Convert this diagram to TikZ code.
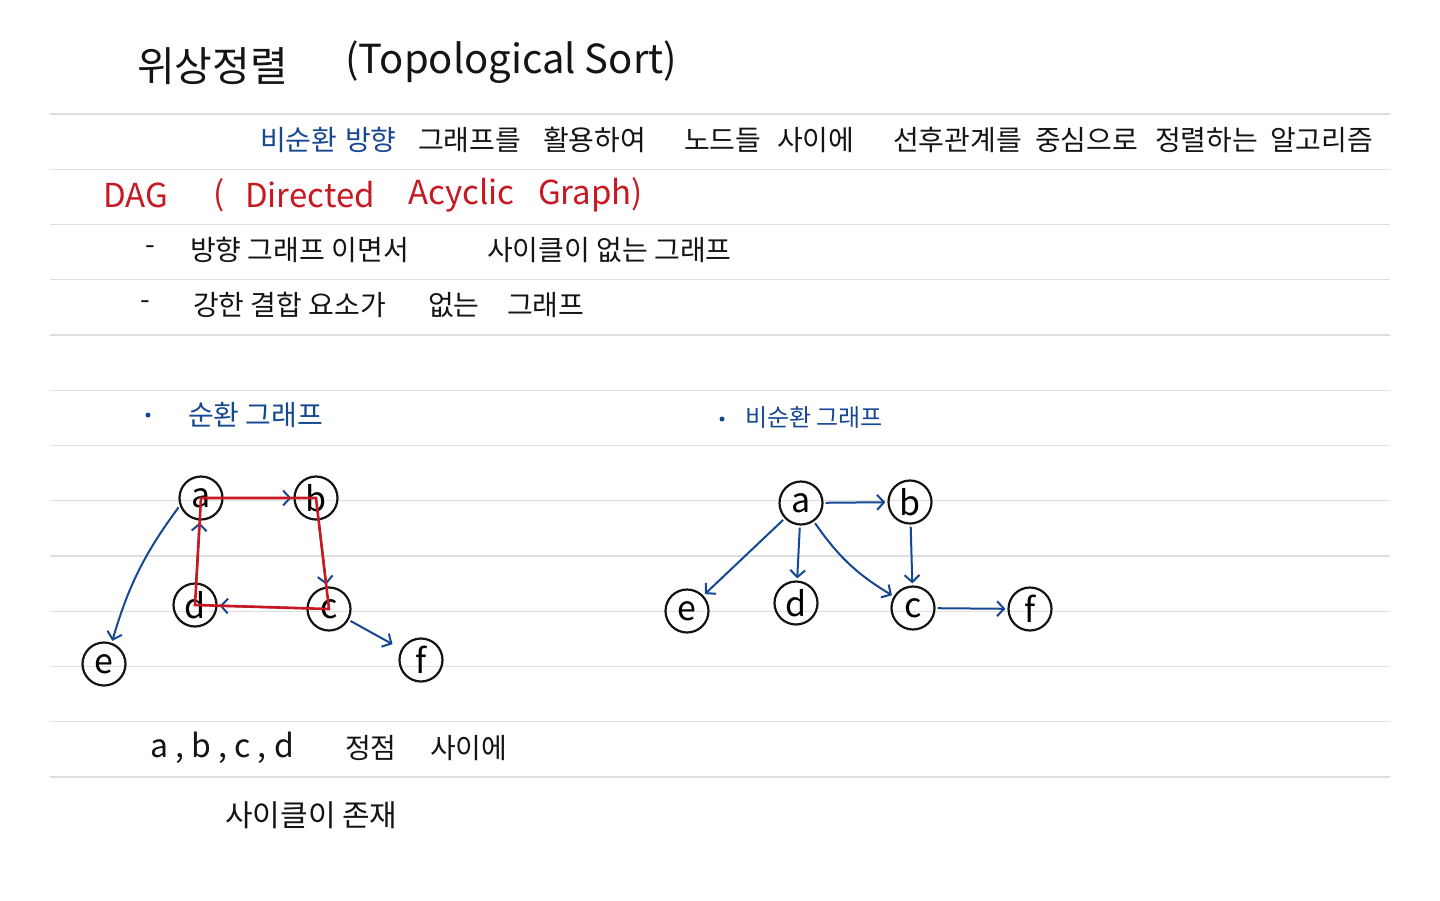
\documentclass[tikz,border=0pt]{standalone}
\usepackage{fontspec}
\setmainfont{Noto Sans CJK KR}
\usetikzlibrary{arrows.meta, positioning}
\definecolor{myblue}{RGB}{22,72,145}
\definecolor{myred}{RGB}{200,25,35}
\definecolor{mydark}{RGB}{20,20,20}
\definecolor{rulegray}{RGB}{222,222,222}
\tikzset{
  vertex/.style={circle, draw=mydark, line width=2.2pt, minimum size=43pt,
    inner sep=0pt, font=\fontsize{34}{34}\selectfont},
  arrow/.style={-{Straight Barb[length=7pt,width=15pt]}, line width=2pt,
    color=myblue, shorten >=2pt, shorten <=2pt},
  cycleline/.style={line width=2.6pt, color=myred},
  ruleline/.style={line width=1.4pt, color=rulegray},
  txt/.style={anchor=west, inner sep=0pt, text=mydark,
    font=\fontsize{28}{30}\selectfont},
  bluetxt/.style={txt, text=myblue},
  redtxt/.style={txt, text=myred, font=\fontsize{33}{35}\selectfont}
}

\begin{document}
\begin{tikzpicture}[x=1pt, y=-1pt]
  \useasboundingbox[fill=white] (0,0) rectangle (1440,900);

  % Ruled lines
  \foreach \k in {0,...,12}
    \draw[ruleline] (50,{114+55.25*\k}) -- (1390,{114+55.25*\k});

  % Title
  \node[txt, font=\fontsize{41}{43}\selectfont] (title) at (137,66) {위상정렬};
  \node[txt, font=\fontsize{40}{42}\selectfont] (titleen) at (345,62) {(Topological Sort)};

  % Definition
  \node[bluetxt] (w1) at (260,140) {비순환};
  \node[bluetxt] (w2) at (345,140) {방향};
  \foreach \x/\w in {418/그래프를, 543/활용하여, 684/노드들, 777/사이에,
                     893/선후관계를, 1035/중심으로, 1155/정렬하는, 1270/알고리즘}
    \node[txt] (w\x) at (\x,140) {\w};

  % DAG
  \node[redtxt] (dag) at (103,195) {DAG};
  \node[redtxt] (dagopen) at (213,195) {(};
  \node[redtxt] (dagd) at (245,195) {Directed};
  \node[redtxt] (daga) at (408,195) {Acyclic};
  \node[redtxt] (dagg) at (538,195) {Graph)};

  \node[txt] (dash1) at (145,250) {-};
  \node[txt] (item1a) at (190,250) {방향 그래프 이면서};
  \node[txt] (item1b) at (487,250) {사이클이 없는 그래프};
  \node[txt] (dash2) at (140,305) {-};
  \node[txt] (item2a) at (193,305) {강한 결합 요소가};
  \node[txt] (item2b) at (428,305) {없는};
  \node[txt] (item2c) at (507,305) {그래프};

  % Section heads
  \fill[myblue] (148,415) circle (2.5);
  \node[bluetxt] (cyc) at (188,415) {순환 그래프};
  \fill[myblue] (722,419) circle (2.5);
  \node[bluetxt, font=\fontsize{24}{26}\selectfont] (acyc) at (745,417) {비순환 그래프};

  % Cyclic graph
  \node[vertex] (la) at (201,498) {a};
  \node[vertex] (lb) at (316,498) {b};
  \node[vertex] (ld) at (195,605) {d};
  \node[vertex] (lc) at (329,609) {c};
  \node[vertex] (le) at (104,664) {e};
  \node[vertex] (lf) at (421,660) {f};
  \draw[arrow] (la) -- (lb);
  \draw[arrow] (lb) -- (lc);
  \draw[arrow] (lc) -- (ld);
  \draw[arrow] (ld) -- (la);
  \draw[arrow] (la.200) to[bend right=10] (le.70);
  \draw[arrow, shorten >=10pt] (lc) -- (lf);
  \draw[cycleline] (la.center) -- (lb.center) -- (lc.center) -- (ld.center) -- cycle;

  % Acyclic graph
  \node[vertex] (ra) at (801,503) {a};
  \node[vertex] (rb) at (910,502) {b};
  \node[vertex] (re) at (687,611) {e};
  \node[vertex] (rd) at (796,603) {d};
  \node[vertex] (rc) at (913,608) {c};
  \node[vertex] (rf) at (1030,609) {f};
  \draw[arrow] (ra) -- (rb);
  \draw[arrow] (ra) -- (re);
  \draw[arrow] (ra) -- (rd);
  \draw[arrow] (ra) to[bend right=12] (rc);
  \draw[arrow] (rb) -- (rc);
  \draw[arrow] (rc) -- (rf);

  % Note
  \node[txt, font=\fontsize{32}{34}\selectfont] (note1) at (150,748) {a , b , c , d};
  \node[txt] (note2) at (345,748) {정점};
  \node[txt] (note3) at (430,748) {사이에};
  \node[txt, font=\fontsize{30}{32}\selectfont] (note4) at (225,815) {사이클이 존재};
\end{tikzpicture}
\end{document}
